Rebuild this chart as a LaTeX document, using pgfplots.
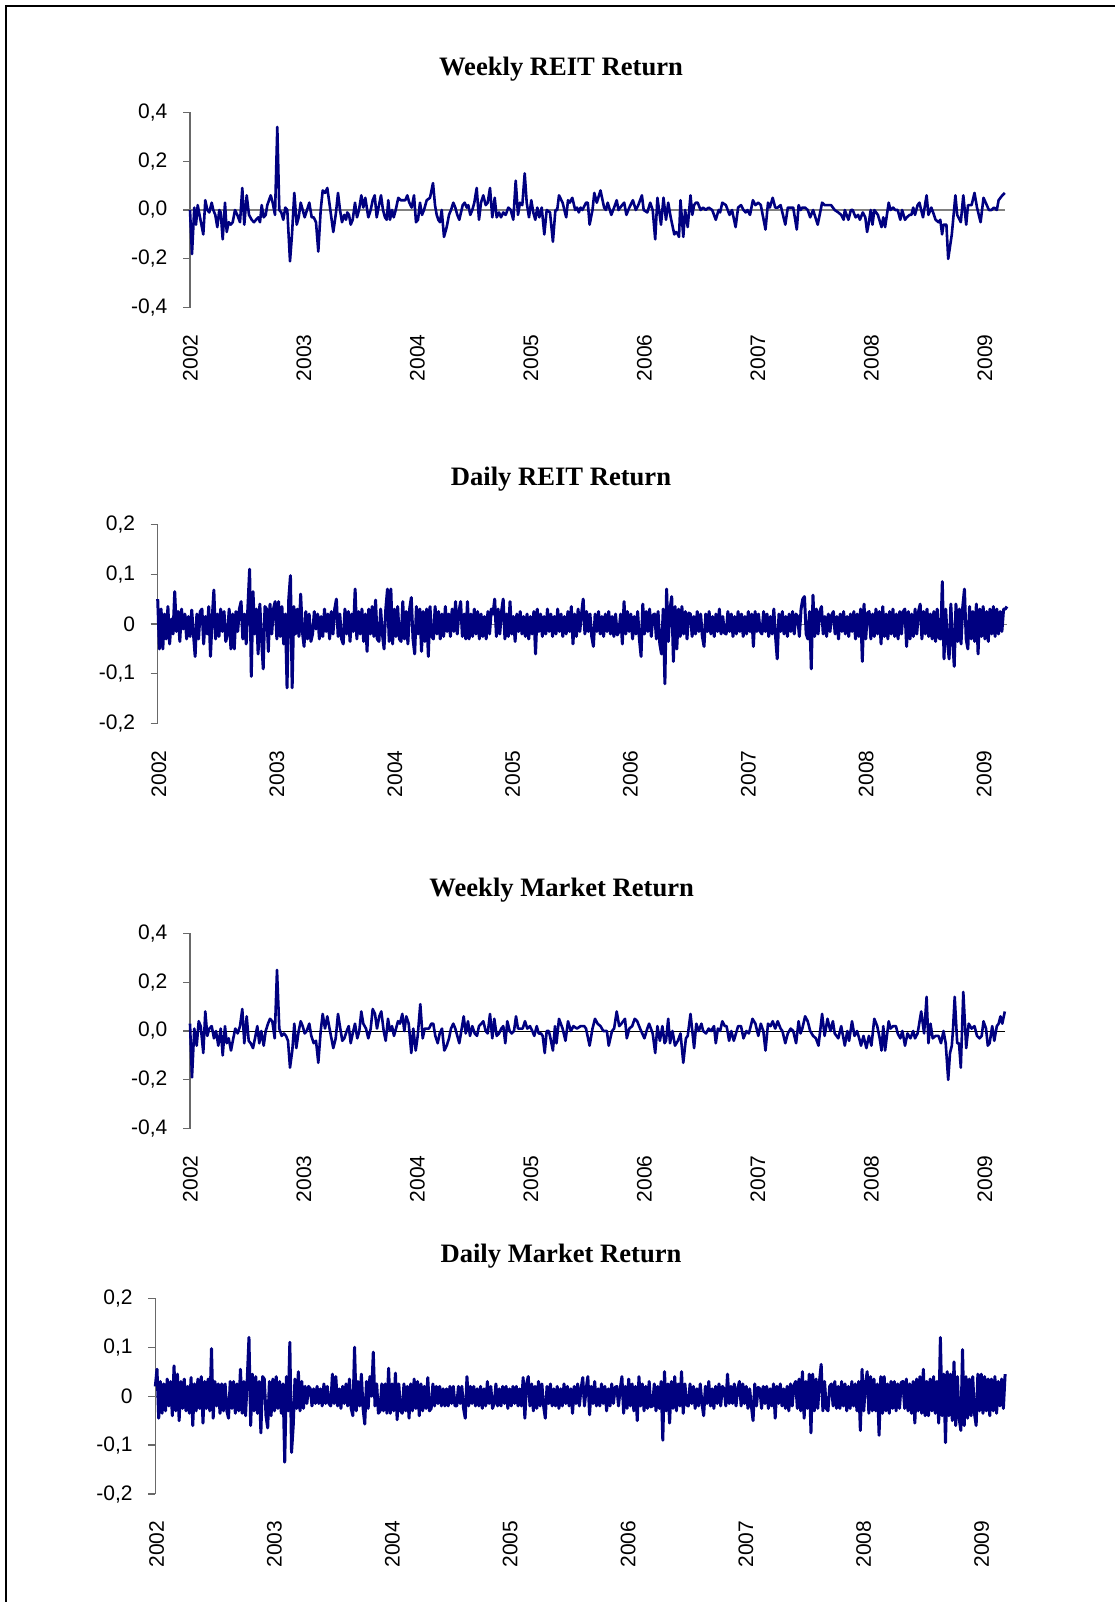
\documentclass[border=0pt]{standalone}
\usepackage{pgfplots}
\pgfplotsset{compat=1.18}
\usepackage{pgfplotstable}
\usepackage{fontspec}
\setmainfont{Liberation Sans}
\newfontfamily\titlefont{Liberation Serif}
\definecolor{navyline}{RGB}{0,0,128}
\definecolor{axisgray}{RGB}{105,105,105}

\pgfplotstableread[row sep=\\]{
y\\
0.050\\ -0.050\\ 0.030\\ -0.050\\ 0.020\\ -0.030\\ 0.035\\ -0.040\\ 0.010\\ -0.020\\ 0.065\\ -0.015\\ 0.025\\ -0.035\\ 0.030\\ -0.010\\ 0.020\\ -0.030\\ 0.015\\ -0.025\\
0.028\\ -0.020\\ -0.065\\ 0.020\\ -0.030\\ 0.025\\ 0.030\\ -0.040\\ 0.015\\ -0.020\\ 0.035\\ -0.065\\ 0.010\\ 0.068\\ -0.030\\ 0.020\\ -0.025\\ 0.030\\ -0.015\\
0.025\\ -0.035\\ -0.020\\ 0.030\\ -0.050\\ 0.020\\ -0.050\\ 0.025\\ -0.015\\ 0.030\\ 0.045\\ -0.030\\ 0.020\\ -0.040\\ 0.035\\ 0.110\\ -0.105\\ 0.065\\ -0.020\\
0.030\\ -0.060\\ 0.040\\ -0.030\\ -0.090\\ 0.035\\ 0.030\\ -0.055\\ 0.040\\ -0.020\\ 0.030\\ 0.045\\ -0.030\\ 0.045\\ -0.025\\ 0.035\\ -0.040\\ 0.020\\ -0.128\\
0.050\\ 0.097\\ -0.128\\ 0.035\\ -0.020\\ 0.030\\ -0.025\\ 0.060\\ -0.015\\ -0.045\\ 0.025\\ -0.030\\ 0.020\\ -0.035\\ -0.020\\ 0.025\\ -0.010\\ 0.020\\ -0.030\\
0.015\\ -0.025\\ 0.030\\ -0.015\\ 0.020\\ -0.030\\ 0.025\\ -0.020\\ 0.030\\ 0.050\\ -0.025\\ 0.020\\ -0.030\\ -0.040\\ 0.030\\ -0.020\\ 0.025\\ -0.035\\ 0.020\\
-0.015\\ 0.070\\ -0.030\\ 0.025\\ -0.020\\ 0.030\\ -0.035\\ 0.020\\ -0.055\\ 0.030\\ -0.020\\ 0.035\\ -0.025\\ 0.048\\ -0.030\\ -0.035\\ 0.030\\ -0.020\\ -0.050\\
0.030\\ 0.070\\ -0.035\\ 0.070\\ -0.040\\ 0.030\\ -0.025\\ 0.035\\ -0.030\\ -0.035\\ 0.045\\ -0.030\\ 0.025\\ -0.040\\ 0.030\\ 0.053\\ -0.030\\ -0.060\\ 0.035\\
-0.020\\ 0.030\\ -0.055\\ 0.025\\ -0.035\\ 0.030\\ -0.065\\ 0.035\\ -0.025\\ -0.030\\ 0.035\\ -0.020\\ 0.025\\ -0.030\\ 0.020\\ -0.025\\ 0.035\\ -0.015\\ 0.020\\
-0.025\\ 0.030\\ -0.015\\ 0.045\\ -0.020\\ 0.025\\ 0.045\\ -0.025\\ 0.020\\ -0.030\\ 0.045\\ -0.030\\ 0.020\\ -0.025\\ 0.030\\ -0.020\\ 0.025\\ -0.030\\ 0.020\\
-0.025\\ 0.015\\ -0.030\\ 0.025\\ -0.020\\ 0.030\\ 0.020\\ 0.050\\ -0.025\\ 0.030\\ -0.020\\ 0.025\\ 0.050\\ -0.030\\ 0.020\\ -0.025\\ 0.045\\ -0.020\\ 0.015\\
-0.035\\ 0.020\\ -0.015\\ 0.025\\ -0.020\\ 0.015\\ -0.025\\ 0.020\\ -0.030\\ 0.015\\ -0.020\\ 0.025\\ -0.060\\ 0.030\\ -0.015\\ 0.020\\ -0.025\\ 0.015\\ -0.020\\ 0.030\\
-0.015\\ 0.020\\ -0.025\\ 0.015\\ -0.020\\ 0.030\\ -0.015\\ 0.020\\ -0.025\\ 0.015\\ -0.020\\ 0.025\\ -0.015\\ 0.035\\ -0.040\\ 0.020\\ -0.025\\ 0.030\\ -0.015\\ 0.020\\
0.050\\ -0.020\\ 0.025\\ -0.015\\ 0.020\\ -0.025\\ -0.045\\ 0.020\\ -0.015\\ 0.025\\ -0.020\\ 0.015\\ -0.025\\ 0.020\\ -0.015\\ 0.025\\ -0.020\\ 0.015\\ -0.025\\ 0.020\\ -0.022\\
-0.015\\ 0.020\\ -0.040\\ 0.045\\ -0.020\\ 0.025\\ -0.015\\ 0.020\\ -0.030\\ 0.015\\ -0.020\\ 0.025\\ -0.030\\ -0.065\\ 0.040\\ -0.020\\ 0.025\\ -0.015\\ 0.030\\ -0.025\\ 0.018\\
0.020\\ -0.030\\ 0.025\\ -0.040\\ -0.060\\ 0.030\\ -0.120\\ 0.070\\ -0.035\\ 0.030\\ 0.055\\ -0.075\\ 0.035\\ -0.050\\ 0.030\\ -0.025\\ 0.035\\ -0.020\\ 0.025\\ -0.030\\ 0.022\\
0.020\\ -0.025\\ 0.015\\ -0.020\\ 0.025\\ -0.015\\ 0.020\\ -0.025\\ -0.045\\ 0.020\\ -0.015\\ 0.025\\ -0.020\\ 0.015\\ -0.025\\ 0.020\\ -0.015\\ 0.030\\ -0.020\\ 0.015\\ -0.018\\
-0.020\\ 0.025\\ -0.015\\ 0.020\\ -0.025\\ 0.015\\ -0.020\\ 0.025\\ -0.015\\ 0.020\\ -0.025\\ 0.015\\ -0.020\\ 0.025\\ -0.015\\ 0.020\\ -0.045\\ 0.025\\ -0.015\\ 0.020\\ -0.015\\
-0.020\\ 0.025\\ -0.015\\ 0.020\\ -0.025\\ 0.015\\ -0.020\\ 0.030\\ -0.025\\ -0.070\\ 0.020\\ -0.015\\ 0.025\\ -0.020\\ 0.015\\ -0.025\\ 0.020\\ -0.015\\ 0.025\\ -0.020\\ 0.020\\
0.015\\ -0.025\\ 0.030\\ 0.050\\ 0.055\\ -0.020\\ -0.030\\ 0.025\\ -0.090\\ 0.058\\ -0.025\\ 0.030\\ -0.020\\ 0.025\\ 0.035\\ -0.020\\ 0.015\\ -0.025\\ 0.020\\ -0.015\\ 0.018\\
0.025\\ -0.020\\ 0.015\\ -0.030\\ 0.020\\ -0.015\\ 0.025\\ -0.020\\ 0.015\\ -0.025\\ 0.020\\ -0.015\\ 0.025\\ -0.030\\ 0.020\\ -0.025\\ 0.030\\ -0.075\\ 0.040\\ -0.030\\ 0.022\\
0.025\\ -0.030\\ 0.020\\ -0.025\\ 0.030\\ -0.020\\ 0.025\\ -0.040\\ 0.035\\ -0.025\\ 0.020\\ -0.030\\ 0.025\\ -0.020\\ 0.030\\ -0.025\\ 0.020\\ -0.030\\ 0.025\\ -0.020\\ 0.025\\
0.030\\ -0.045\\ 0.025\\ -0.030\\ 0.020\\ -0.025\\ 0.030\\ -0.020\\ 0.025\\ 0.040\\ -0.030\\ 0.025\\ -0.020\\ 0.030\\ -0.025\\ 0.020\\ -0.030\\ 0.025\\ -0.035\\ 0.030\\ -0.028\\
-0.030\\ 0.085\\ -0.070\\ 0.030\\ -0.035\\ -0.070\\ 0.040\\ -0.030\\ -0.085\\ 0.040\\ -0.035\\ 0.030\\ -0.040\\ 0.035\\ 0.070\\ -0.030\\ -0.050\\ 0.035\\ -0.030\\ 0.025\\
-0.035\\ 0.040\\ -0.060\\ 0.030\\ -0.025\\ 0.035\\ -0.030\\ 0.025\\ -0.035\\ 0.030\\ -0.020\\ 0.035\\ -0.025\\ 0.030\\ -0.020\\ 0.025\\ -0.015\\ 0.030\\ 0.030\\ 0.035\\
}\dailyreit

\pgfplotstableread[row sep=\\]{
y\\
0.020\\ 0.055\\ -0.045\\ 0.030\\ -0.035\\ 0.025\\ -0.030\\ 0.035\\ -0.020\\ 0.030\\ -0.040\\ 0.062\\ -0.030\\ 0.045\\ -0.050\\ 0.030\\ -0.025\\ 0.035\\ -0.030\\ 0.020\\
-0.035\\ 0.038\\ -0.060\\ 0.025\\ -0.030\\ 0.035\\ -0.025\\ 0.040\\ -0.055\\ 0.030\\ -0.025\\ 0.035\\ -0.030\\ 0.097\\ -0.045\\ 0.030\\ -0.020\\ 0.025\\ -0.035\\
0.025\\ -0.030\\ 0.025\\ -0.030\\ -0.045\\ 0.030\\ -0.025\\ 0.030\\ -0.035\\ 0.025\\ -0.030\\ 0.055\\ -0.035\\ 0.030\\ -0.040\\ 0.035\\ 0.120\\ -0.060\\ 0.045\\
-0.030\\ 0.040\\ -0.035\\ 0.030\\ -0.075\\ 0.040\\ 0.035\\ -0.040\\ -0.065\\ 0.030\\ -0.040\\ 0.035\\ -0.030\\ 0.040\\ -0.025\\ 0.030\\ -0.035\\ 0.025\\ -0.135\\
0.040\\ -0.030\\ 0.110\\ -0.115\\ -0.060\\ 0.035\\ -0.025\\ 0.050\\ -0.030\\ 0.030\\ -0.025\\ 0.020\\ -0.015\\ 0.020\\ 0.015\\ -0.020\\ 0.015\\ -0.015\\ 0.020\\
-0.015\\ 0.015\\ -0.020\\ 0.025\\ -0.015\\ 0.020\\ -0.015\\ -0.020\\ 0.045\\ -0.015\\ 0.040\\ -0.020\\ 0.015\\ -0.025\\ 0.020\\ -0.015\\ 0.025\\ -0.020\\ 0.035\\
-0.025\\ -0.040\\ 0.100\\ -0.030\\ 0.030\\ -0.020\\ 0.045\\ -0.025\\ -0.057\\ 0.030\\ -0.025\\ 0.040\\ 0.000\\ 0.090\\ -0.020\\ 0.025\\ -0.035\\ -0.030\\ 0.025\\
-0.030\\ 0.025\\ -0.035\\ 0.057\\ -0.035\\ 0.025\\ -0.030\\ 0.047\\ -0.048\\ 0.025\\ -0.030\\ -0.035\\ 0.025\\ -0.030\\ 0.020\\ -0.045\\ 0.025\\ -0.030\\ 0.035\\
-0.025\\ 0.030\\ -0.040\\ 0.025\\ -0.030\\ 0.020\\ -0.025\\ 0.038\\ -0.030\\ -0.025\\ 0.025\\ -0.020\\ 0.020\\ -0.015\\ 0.020\\ -0.020\\ 0.015\\ -0.020\\ 0.015\\
-0.020\\ 0.020\\ -0.015\\ 0.020\\ -0.020\\ -0.020\\ 0.020\\ -0.015\\ 0.020\\ -0.025\\ -0.045\\ 0.040\\ -0.020\\ 0.020\\ -0.015\\ 0.020\\ -0.020\\ 0.015\\ -0.020\\
0.020\\ -0.025\\ 0.015\\ -0.020\\ 0.030\\ -0.015\\ 0.020\\ -0.025\\ -0.015\\ 0.025\\ -0.020\\ 0.015\\ -0.020\\ 0.020\\ -0.015\\ 0.020\\ -0.025\\ 0.015\\ -0.020\\
0.020\\ -0.015\\ 0.020\\ -0.020\\ 0.015\\ -0.020\\ 0.038\\ -0.045\\ 0.025\\ 0.040\\ -0.020\\ 0.025\\ -0.030\\ 0.020\\ -0.025\\ 0.030\\ -0.020\\ 0.025\\ -0.020\\ -0.045\\
0.020\\ -0.015\\ 0.025\\ -0.020\\ 0.015\\ -0.020\\ 0.020\\ -0.025\\ 0.015\\ -0.020\\ 0.025\\ -0.015\\ 0.020\\ -0.020\\ 0.015\\ -0.035\\ 0.020\\ -0.015\\ 0.025\\ -0.020\\
0.015\\ 0.038\\ -0.020\\ 0.015\\ 0.040\\ -0.038\\ 0.020\\ -0.015\\ 0.030\\ -0.020\\ 0.015\\ -0.020\\ 0.025\\ -0.015\\ 0.020\\ -0.030\\ 0.015\\ -0.020\\ 0.025\\ -0.015\\ 0.018\\
0.020\\ -0.020\\ 0.015\\ 0.040\\ -0.035\\ 0.020\\ -0.025\\ 0.035\\ -0.020\\ 0.025\\ -0.030\\ 0.020\\ -0.050\\ 0.040\\ -0.020\\ 0.025\\ -0.030\\ 0.020\\ -0.025\\ 0.030\\ -0.022\\
-0.020\\ 0.025\\ -0.030\\ 0.020\\ -0.025\\ 0.030\\ -0.090\\ 0.050\\ -0.030\\ 0.025\\ -0.055\\ 0.030\\ -0.025\\ 0.040\\ -0.030\\ 0.025\\ -0.020\\ 0.050\\ -0.035\\ 0.025\\ -0.018\\
-0.020\\ 0.025\\ -0.015\\ 0.020\\ -0.025\\ 0.015\\ -0.020\\ 0.025\\ -0.015\\ -0.040\\ 0.020\\ -0.015\\ 0.030\\ -0.020\\ 0.015\\ -0.025\\ 0.020\\ -0.015\\ 0.025\\ -0.020\\ 0.020\\
0.015\\ -0.020\\ 0.045\\ -0.015\\ 0.020\\ -0.015\\ 0.025\\ -0.020\\ 0.015\\ 0.030\\ -0.020\\ 0.025\\ -0.015\\ 0.020\\ -0.025\\ 0.015\\ -0.020\\ -0.050\\ 0.025\\ -0.020\\ 0.018\\
0.015\\ -0.025\\ 0.020\\ -0.015\\ 0.020\\ -0.025\\ 0.015\\ -0.020\\ 0.025\\ -0.045\\ 0.020\\ -0.015\\ 0.025\\ -0.020\\ 0.015\\ -0.025\\ 0.020\\ -0.030\\ 0.025\\ -0.020\\ 0.022\\
0.030\\ -0.025\\ 0.035\\ -0.030\\ 0.050\\ -0.045\\ 0.030\\ -0.025\\ 0.045\\ -0.075\\ 0.045\\ -0.030\\ 0.035\\ -0.025\\ 0.030\\ 0.065\\ -0.030\\ 0.030\\ -0.025\\ -0.030\\ 0.020\\
0.025\\ -0.020\\ 0.030\\ -0.025\\ 0.020\\ -0.025\\ 0.030\\ -0.020\\ 0.025\\ -0.030\\ 0.020\\ -0.025\\ 0.030\\ -0.020\\ 0.025\\ -0.030\\ 0.030\\ -0.070\\ 0.055\\ -0.030\\ 0.025\\
0.050\\ -0.035\\ 0.040\\ -0.030\\ 0.035\\ -0.030\\ 0.025\\ -0.080\\ 0.040\\ -0.035\\ 0.040\\ -0.030\\ 0.025\\ -0.035\\ 0.030\\ -0.025\\ 0.030\\ -0.030\\ 0.025\\ -0.025\\ 0.028\\
0.030\\ -0.025\\ 0.035\\ -0.030\\ 0.025\\ -0.035\\ 0.030\\ -0.055\\ 0.035\\ -0.030\\ 0.040\\ -0.035\\ 0.055\\ -0.040\\ 0.030\\ -0.040\\ 0.035\\ -0.030\\ 0.040\\ -0.035\\ 0.030\\
-0.055\\ 0.120\\ -0.040\\ 0.045\\ -0.095\\ 0.050\\ -0.040\\ 0.045\\ -0.050\\ 0.070\\ -0.060\\ 0.040\\ -0.045\\ -0.070\\ 0.095\\ -0.060\\ 0.040\\ -0.045\\ 0.035\\ -0.040\\
0.040\\ -0.035\\ -0.060\\ 0.045\\ -0.030\\ 0.045\\ -0.035\\ 0.040\\ -0.030\\ 0.035\\ -0.040\\ 0.035\\ -0.030\\ 0.040\\ -0.035\\ 0.030\\ -0.020\\ 0.035\\ -0.025\\ 0.045\\
}\dailymarket

\pgfplotsset{
  panel/.style={
    scale only axis, anchor=south west, clip=false,
    axis y line*=left, axis x line*=bottom,
    x axis line style={draw=none},
    y axis line style={axisgray, line width=0.6pt},
    xtick style={draw=none},
    ytick style={axisgray, line width=0.6pt},
    tick align=outside,
    major tick length=3.5pt,
    tick label style={font=\fontsize{10.5}{12}\selectfont, text=black},
    xticklabel style={rotate=90, anchor=east},
    xticklabel shift=6.3pt,
    yticklabel shift=4.3pt,
    xticklabels={2002,2003,2004,2005,2006,2007,2008,2009},
  },
  weekly/.style={panel, xmin=190, xmax=1005, ymin=-0.4, ymax=0.4,
    width=407.5pt, height=97.7pt,
    xtick={190.5,304,417.5,531,644.5,758,871.5,985},
    ytick={-0.4,-0.2,0,0.2,0.4},
    yticklabels={{-0,4},{-0,2},{0,0},{0,2},{0,4}}},
  daily/.style={panel, xmin=0, xmax=499, ymin=-0.2, ymax=0.2,
    ytick={-0.2,-0.1,0,0.1,0.2},
    yticklabels={{-0,2},{-0,1},{0},{0,1},{0,2}}},
  ser/.style={navyline, line width=1.3pt, line join=round, mark=none},
  dser/.style={navyline, line width=1.5pt, line join=round, mark=none},
}

\begin{document}
\begin{tikzpicture}
\useasboundingbox (0,0) rectangle (557.5pt,-801pt);
\draw[black, line width=1pt] (3pt,-801pt) -- (3pt,-3pt) -- (557.5pt,-3pt);

\node[font=\titlefont\bfseries\fontsize{13.3}{15}\selectfont] at (280.5pt,-34.75pt) {Weekly REIT Return};
\node[font=\titlefont\bfseries\fontsize{13.3}{15}\selectfont] at (280.5pt,-239.8pt) {Daily REIT Return};
\node[font=\titlefont\bfseries\fontsize{13.3}{15}\selectfont] at (280.85pt,-445pt) {Weekly Market Return};
\node[font=\titlefont\bfseries\fontsize{13.3}{15}\selectfont] at (280.5pt,-628pt) {Daily Market Return};

% Panel 1: Weekly REIT
\begin{axis}[weekly, at={(95pt,-153.85pt)}]
\addplot[gray, line width=1pt] coordinates {(190,0) (1005,0)};
\addplot[ser] coordinates {
(190,0) (192,-0.18) (194.3,0.01) (196,-0.06) (197.7,0.02) (200,-0.03) (203.3,-0.10) (205.3,0.04) (207.3,0) (209.3,-0.01) (211.7,0.03) (213.3,0) (215.3,-0.02) (217.3,-0.07) (219.3,0) (220.7,-0.01) (222.7,-0.12) (225,0.03) (226.7,-0.09) (228.7,-0.05) (230.7,-0.06) (232.7,-0.05) (235,0) (237.3,-0.02) (240,-0.05) (242.3,0.09) (244.3,-0.06) (246.7,0.06) (249,-0.02) (251.7,-0.04) (254,-0.05) (256,-0.04) (258.3,-0.03) (260,-0.05) (261.7,0.02) (263.7,-0.03) (265.7,-0.02) (267.3,0.02) (269,0.04) (270.7,0.06) (272.7,0.03) (275,-0.02) (277.3,0.34) (279.3,0) (281.3,-0.01) (283.3,-0.04) (285.3,0.01) (287.3,0) (290,-0.21) (292,-0.10) (294.3,0.07) (296.7,-0.06) (298.7,-0.03) (300.7,0.03) (302.7,0) (304.7,-0.03) (307,0) (309.3,0.03) (311.7,-0.03) (313.7,-0.03) (316,-0.05) (318.3,-0.17) (320.7,0) (322.7,0.08) (325,0.07) (327.3,0.09) (330,0.01) (333.3,-0.09) (336,-0.01) (338,0.07) (340,0) (342,-0.05) (344.3,-0.02) (346,-0.04) (347.3,-0.01) (349,-0.02) (350.7,-0.06) (352.7,-0.04) (355,0.03) (357,-0.03) (359,0) (361.3,0.06) (363.3,0.01) (365.3,0.05) (368.3,-0.03) (370.7,0) (372.7,0.04) (374.7,0.06) (376.7,-0.03) (379,0.02) (381,0.06) (383,0) (385,-0.03) (386.7,-0.04) (388.3,0.04) (390,-0.04) (392,0) (393.7,-0.03) (395.7,0) (398.3,0.05) (400.7,0.04) (403.3,0.04) (405.3,0.04) (407.3,0.06) (409.3,0.03) (411.7,0.01) (414,0.06) (416,-0.05) (418,-0.04) (420,0.03) (422,-0.02) (424,0) (426.7,0.04) (430,0.05) (433,0.11) (435,0.02) (436.7,-0.02) (438.3,-0.04) (440,-0.05) (441.7,0) (444,-0.11) (446.7,-0.07) (449,-0.02) (451,0) (453.3,0.03) (455.3,0.01) (457.3,-0.02) (459.3,-0.04) (462.7,0.02) (464.7,0.03) (466.7,0.01) (468.3,0.02) (470.3,-0.02) (472.3,0) (474.3,0.03) (476.7,0.09) (479,-0.04) (481,0.03) (483.3,0.06) (485.7,0.02) (487.7,0.03) (490,0.09) (492.3,-0.03) (494.7,0.05) (496.7,-0.03) (499,-0.01) (501,-0.03) (503.3,-0.01) (505.7,-0.02) (508.3,0.01) (510.7,0) (513.3,-0.04) (515.7,0.12) (518,-0.02) (520,0.03) (522.3,0.02) (524.7,0.15) (526.7,0.03) (529,-0.03) (531.3,0.04) (533.3,-0.01) (535.3,-0.04) (537.3,0.01) (539.3,-0.03) (541.7,0.01) (544.3,-0.10) (546.7,0) (550,-0.01)
(552.9,-0.13) (555.4,0) (557.2,0) (559.0,0.06) (562.6,0.03) (566.2,-0.03) (568.0,0.04) (569.8,0.03) (572.3,0.05) (575.2,0) (577.0,0.01) (578.8,-0.01) (580.6,0.01) (582.4,0) (586.0,0.03) (587.8,0.03) (589.6,-0.06) (592.5,0) (594.3,0.07) (596.8,0.03) (600.5,0.08) (604.1,0.01) (605.9,0) (607.7,0.03) (611.3,-0.02) (614.1,0.01) (616.7,0.04) (618.5,0) (622.1,0.02) (624.2,0.03) (626.4,-0.02) (629.3,0.01) (632.9,0.04) (635.8,0) (638.3,0.02) (641.9,0.06) (643.7,0) (647.3,-0.01) (650.2,0.03) (652.7,0) (655.2,-0.12) (657.4,0.05) (661.0,-0.06) (663.5,0.05) (666.0,-0.04) (668.2,0.03) (670.7,-0.03) (674.3,-0.10) (676.1,-0.09) (677.9,-0.10) (679.0,-0.11) (680.5,0.04) (683.3,-0.11) (685.1,0) (687.7,-0.07) (690.5,0.06) (692.3,-0.02) (694.1,0.02) (695.9,0.03) (697.7,0.03) (700.6,0) (703.2,0.01) (705.7,0) (708.6,0.01) (712.2,0) (715.8,-0.04) (718.6,0) (720.1,-0.01) (722.3,0.03) (725.9,0.02) (727.7,0) (729.5,-0.02) (732.0,0) (735.6,-0.07) (738.1,0.01) (741.0,0.02) (743.5,0) (745.7,-0.01) (747.5,0) (750.0,-0.02) (752.9,0.04) (755.4,0.02) (758.3,0.03) (760.8,0.02) (765.5,-0.08) (768.0,0.03) (769.8,0.01) (772.7,0.05) (775.2,0.01) (777.7,0.01) (780.6,0.02) (785.3,-0.06) (787.8,0.01) (790.7,0.01) (793.2,0.01) (796.8,-0.08) (798.6,0.02) (800.5,0) (802.3,0.01) (805.1,0.01) (807.7,0) (810.2,-0.03) (813.1,0) (817.7,-0.06) (822.1,0.03) (824.6,0.02) (827.5,0.02) (831.1,0.02) (834.7,0) (838.3,-0.01) (841.2,-0.02) (843.7,-0.04) (844.8,0) (848.4,-0.04) (850.9,0) (852.7,0) (855.6,-0.03) (858.1,-0.02) (859.9,-0.04) (862.8,-0.01) (865.3,-0.03) (867.1,-0.09) (868.9,-0.05) (870.7,0) (872.5,-0.06) (874.3,0) (876.1,-0.01) (877.9,-0.02) (881.5,-0.07) (883.3,-0.03) (885.1,-0.07) (888.7,0.03) (890.5,0) (893.1,0.01) (895.2,0) (897.7,0) (900.3,-0.04) (902.1,0) (905.0,-0.04) (906.8,-0.03) (909.6,-0.02) (911.4,-0.02) (913.2,0.01) (915.0,-0.02) (917.6,0.02) (919.4,0.03) (923.0,-0.03) (926.6,0.06) (928.4,-0.02) (931.3,0.01) (933.1,-0.01) (935.6,-0.04) (938.5,-0.05) (940.3,-0.04) (942.1,-0.10) (943.5,-0.06) (946.4,-0.06) (948.2,-0.20) (951.8,-0.10) (955.4,0.06) (957.2,-0.02) (960.8,-0.05) (963.3,0.06) (966.2,-0.06) (968.0,0.02) (971.6,0.02) (974.5,0.07) (977.0,0.01) (980.6,-0.05) (983.5,0.05) (986.8,0.02) (988.9,0) (991.4,0) (994.0,0.01) (996.8,0) (998.6,0.04) (1002.3,0.06) (1004.8,0.07)
};
\end{axis}

% Panel 2: Daily REIT
\begin{axis}[daily, at={(78.85pt,-361.85pt)}, width=424.65pt, height=99.7pt,
  xtick={0.76,70.0,139.3,208.6,277.8,347.1,416.3,485.6}]
\addplot[gray, line width=0.5pt] coordinates {(0,0) (499,0)};
\addplot[dser] table[x expr=\coordindex, y=y] {\dailyreit};
\end{axis}

% Panel 3: Weekly Market
\begin{axis}[weekly, at={(95pt,-564.35pt)}]
\addplot[black, line width=0.5pt] coordinates {(190,0) (1005,0)};
\addplot[ser] coordinates {
(190,0.03) (192,-0.19) (194.3,0.01) (196.7,-0.06) (198.7,0.04) (200.7,0.02) (203.3,-0.09) (205.3,0.08) (207.3,-0.02) (209.3,0.01) (211.7,0.02) (214,-0.03) (216,0) (218.3,-0.06) (220.7,0.01) (222.7,-0.10) (225,0.02) (226.7,-0.05) (228.7,-0.03) (231,-0.08) (233.3,-0.03) (235.3,0.01) (237.7,-0.01) (240,0.02) (242.3,0.09) (244.3,-0.05) (246.7,0.06) (248.7,-0.04) (250.7,-0.05) (253,-0.07) (255,-0.03) (257.3,0.02) (259.3,-0.05) (261.3,0) (263.7,-0.06) (265.7,0) (268,0.03) (270,0.05) (272.3,0.04) (274.7,-0.03) (277,0.25) (279.3,0.01) (281.7,-0.02) (284,-0.01) (286,-0.02) (288,-0.04) (290,-0.15) (292.3,-0.08) (294.3,0.03) (296.3,-0.07) (298.7,0) (300.7,0.04) (302.7,0.02) (304.7,-0.01) (306.7,0) (309.3,0.03) (311.3,-0.02) (313.7,-0.05) (316,-0.04) (318.3,-0.13) (320.7,0) (322.7,0.07) (325,0.01) (327.3,0.06) (330,0) (333.3,-0.07) (335.7,-0.03) (338,0.07) (340.3,0.01) (342.3,-0.04) (344.3,-0.03) (346.7,0) (348.7,0.02) (350.7,-0.05) (352.7,-0.01) (355,0.03) (357.3,-0.03) (359.3,0) (361.3,0.08) (363.3,0.03) (366,0.01) (368.3,-0.03) (370.7,0.01) (372.7,0.09) (375,0.07) (377,0.01) (379.3,0.06) (381.3,0.08) (383.7,0) (385.7,-0.04) (388,0.05) (390,0) (392,0.02) (394,-0.02) (396,0.01) (398,0.04) (400,0.03) (402.3,0.07) (404.3,0) (406.3,0.06) (408.7,0.03) (411.3,-0.09) (413.3,0.01) (415.7,-0.08) (417.7,-0.02) (420.3,0.11) (422.7,-0.03) (424.7,0.01) (426.7,0.01) (429,0.01) (431.3,0.03) (433.3,0.03) (435.3,-0.02) (437.7,-0.05) (439.7,-0.01) (442,0.01) (444.3,-0.08) (446.7,-0.06) (449,-0.03) (451,0.01) (453.3,0.03) (455.3,0.01) (457.3,-0.02) (459.3,-0.05) (461.3,0) (463.7,0.06) (465.7,-0.01) (468,0.04) (470,-0.02) (472.3,0.02) (474.7,-0.01) (477,-0.02) (479,0.02) (481.3,0.03) (483.3,0.04) (485.7,0) (487.7,-0.01) (490,0.07) (492.3,-0.03) (494.3,0.05) (496.7,-0.02) (499,-0.01) (501.3,0.01) (503.3,0.02) (505.3,-0.05) (507.3,0.04) (509.7,0) (511.7,-0.01) (514,0) (516,0.06) (518,0.01) (520.7,0.01) (522.7,0.01) (525,0.04) (527.3,0.01) (530,0.02) (532.3,0) (534.3,-0.02) (536.7,0.02) (538.7,-0.01) (541,-0.01) (542.7,-0.02) (544.7,-0.09) (546.7,0) (548.7,0)
(550,-0.02) (552.9,-0.08) (555.0,0.02) (556.5,-0.05) (559.0,0.05) (562.6,0.01) (565.5,-0.04) (568.0,0.04) (570.9,0) (573.4,0.02) (577.0,0.01) (580.6,0.02) (584.2,0.02) (586.0,0.01) (589.6,-0.06) (592.5,0.01) (595.0,0.05) (597.6,0.03) (600.5,0.02) (603.3,0) (606.9,0) (608.7,-0.06) (612.0,0) (614.1,0.01) (616.7,0.08) (619.2,0.02) (621.4,0.03) (625.0,0.05) (626.8,-0.03) (629.3,0.01) (632.2,0.02) (634.7,0.05) (637.2,0.04) (640.1,0.01) (644.4,-0.03) (647.3,0.01) (649.1,0.03) (652.7,-0.01) (655.2,-0.09) (657.4,0.02) (659.9,-0.04) (662.4,0.02) (664.6,-0.05) (666.0,-0.04) (668.2,0.05) (670.0,-0.05) (672.5,0) (675.0,-0.06) (677.9,-0.04) (680.5,-0.01) (683.3,-0.13) (685.9,-0.03) (687.7,-0.02) (690.5,0.07) (692.3,0) (694.1,-0.07) (696.3,0.03) (698.8,0) (701.4,0.03) (703.2,0) (706.0,-0.01) (708.6,0.01) (711.1,0) (714.0,0.02) (715.8,-0.05) (717.9,0.01) (720.1,0) (722.3,0.04) (724.8,0.02) (726.6,0.02) (729.1,-0.04) (731.3,0) (733.8,-0.04) (736.7,0) (738.1,0.02) (741.0,0.02) (743.5,-0.03) (746.4,0) (748.9,-0.01) (752.5,0.05) (755.4,0.03) (758.3,-0.02) (760.8,0.03) (763.3,0) (765.5,-0.08) (768.0,0.03) (770.5,0.02) (772.7,0.04) (775.2,0.01) (777.7,0.04) (780.6,0.01) (782.4,0) (785.3,-0.05) (787.8,-0.01) (790.7,0.01) (793.2,0) (796.1,-0.05) (798.6,0.04) (800.5,-0.01) (802.3,0.01) (805.1,0.06) (807.7,0.04) (810.2,0) (813.1,-0.02) (815.9,-0.03) (818.5,-0.06) (822.1,0.07) (824.6,-0.02) (827.5,0.05) (830.4,0) (832.9,0.04) (834.7,-0.01) (838.3,-0.03) (841.2,0.02) (844.8,-0.06) (847.3,0) (849.1,-0.04) (852.0,0.04) (854.5,-0.02) (857.0,0) (859.2,-0.03) (861.0,-0.06) (863.5,-0.02) (866.4,-0.07) (868.9,-0.02) (871.4,-0.06) (874.3,0.05) (877.2,0.02) (879.7,-0.03) (881.5,-0.08) (883.3,0.02) (885.1,-0.08) (888.7,0.04) (890.5,0.01) (893.1,0.02) (895.9,0.02) (897.7,-0.01) (900.3,-0.03) (902.4,0) (905.0,-0.06) (907.5,-0.01) (910.4,-0.03) (913.2,0) (915.0,-0.03) (917.6,-0.01) (921.2,0.08) (924.1,-0.01) (926.6,0.14) (928.4,-0.05) (930.5,0.03) (932.7,-0.03) (935.6,-0.02) (938.5,-0.02) (941.0,-0.05) (943.5,0) (945.7,-0.05) (948.2,-0.20) (950.0,-0.09) (951.8,-0.06) (952.9,0) (954.7,0.14) (957.2,-0.05) (959.0,-0.05) (960.8,-0.15) (963.3,0.16) (966.2,-0.07) (968.7,0.03) (971.6,0.01) (974.5,0.02) (977.0,-0.02) (979.5,-0.03) (981.7,-0.02) (983.5,0.04) (986.0,0.01) (987.8,-0.06) (989.6,-0.05) (992.2,0.02) (994.3,-0.04) (996.8,0.02) (998.6,0.03) (1000.5,0.06) (1002.3,0.03) (1004.8,0.08)
};
\end{axis}

% Panel 4: Daily Market
\begin{axis}[daily, at={(77.65pt,-747pt)}, width=424.9pt, height=97.85pt,
  xtick={0.82,70.0,139.2,208.4,277.6,346.8,416.0,485.2}]
\addplot[gray, line width=0.5pt] coordinates {(0,0) (499,0)};
\addplot[dser] table[x expr=\coordindex, y=y] {\dailymarket};
\end{axis}
\end{tikzpicture}
\end{document}
